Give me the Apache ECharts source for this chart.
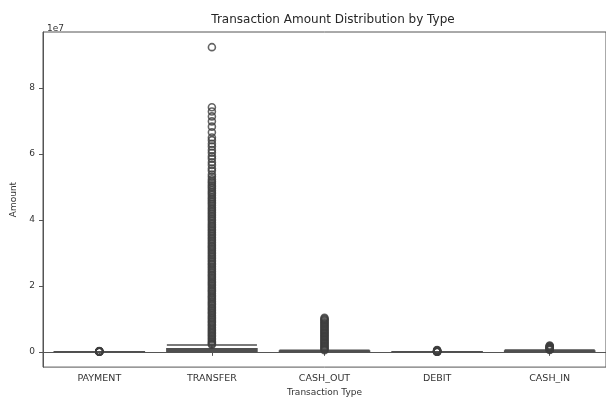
<!DOCTYPE html>
<html>
<head>
<meta charset="utf-8">
<script src="https://cdn.jsdelivr.net/npm/echarts@6/dist/echarts.min.js"></script>
<style>
  html, body { margin: 0; padding: 0; background: #fff; }
  #chart { width: 606px; height: 402px; }
</style>
</head>
<body>
<div id="chart"></div>
<script>
// Transaction types on the x axis
const types = ['PAYMENT', 'TRANSFER', 'CASH_OUT', 'DEBIT', 'CASH_IN'];

// Box statistics per type: [lower whisker, Q1, median, Q3, upper whisker]
const boxStats = [
  [2, 4384, 9482, 17561, 37325],
  [3, 215905, 486309, 974958, 2113000],
  [0, 72670, 147072, 246539, 506000],
  [1, 1500, 3049, 8577, 19000],
  [0, 70272, 143427, 260000, 545000]
];

// Outlier amounts per type (millions)
const outliersPayment = [0.04, 0.05, 0.07, 0.09, 0.11, 0.14, 0.17, 0.2, 0.24];
const outliersTransfer = [
  2.2, 2.5, 2.9, 3.3, 3.8, 4.2, 4.7, 5.1, 5.6, 6.0, 6.5, 6.9, 7.4, 7.9, 8.3,
  8.8, 9.2, 9.7, 10.2, 10.6, 11.1, 11.6, 12.0, 12.5, 13.0, 13.4, 13.9, 14.4,
  14.8, 15.3, 15.8, 16.3, 16.7, 17.2, 17.7, 18.2, 18.6, 19.1, 19.6, 20.1, 20.6,
  21.0, 21.5, 22.0, 22.5, 23.0, 23.4, 23.9, 24.4, 24.9, 25.4, 25.9, 26.4, 26.8,
  27.3, 27.8, 28.3, 28.8, 29.3, 29.8, 30.3, 30.8, 31.3, 31.8, 32.2, 32.7, 33.2,
  33.7, 34.2, 34.7, 35.2, 35.7, 36.2, 36.7, 37.2, 37.7, 38.2, 38.7, 39.2, 39.8,
  40.3, 40.8, 41.3, 41.8, 42.3, 42.8, 43.3, 43.8, 44.4, 44.9, 45.4, 45.9, 46.4,
  46.9, 47.5, 48.0, 48.5, 49.0, 49.6, 50.1, 50.6, 51.2, 51.7, 52.3,
  53.1, 53.8, 54.9, 55.6, 56.7, 57.5, 58.6, 59.3, 60.4, 61.2, 62.3, 63.1, 64.2, 65.0,
  66.6, 68.3, 69.9, 71.4, 72.9, 74.2,
  92.4
];
const outliersCashOut = [
  0.52, 0.8, 1.1, 1.4, 1.7, 2.0, 2.4, 2.7, 3.0, 3.4, 3.7, 4.0, 4.4, 4.7, 5.0,
  5.4, 5.7, 6.0, 6.4, 6.7, 7.0, 7.4, 7.7, 8.0, 8.4, 8.7, 9.0, 9.4, 9.7, 10.0, 10.3
];
const outliersDebit = [0.02, 0.03, 0.05, 0.08, 0.12, 0.17, 0.23, 0.3, 0.38, 0.47, 0.57];
const outliersCashIn = [0.56, 0.7, 0.85, 1.0, 1.15, 1.3, 1.45, 1.6, 1.75, 1.92];

// Y tick positions and labels (scaled by 1e7)
const yTicks = [0, 2e7, 4e7, 6e7, 8e7];
const yTickLabels = ['0', '2', '4', '6', '8'];

// Box fill colours
const boxColors = ['#5975a4', '#cc8963', '#5f9e6e', '#b55d60', '#857aab'];

const outlierLists = [outliersPayment, outliersTransfer, outliersCashOut, outliersDebit, outliersCashIn];
const outlierPoints = [];
outlierLists.forEach((list, i) => {
  list.forEach(v => outlierPoints.push([types[i], v * 1e6]));
});

const boxEdge = '#4f4f4f';
const flierEdge = '#3d3d3d';
const font = 'DejaVu Sans';

const chart = echarts.init(document.getElementById('chart'), null, { renderer: 'canvas' });
chart.setOption({
  animation: false,
  backgroundColor: '#fff',
  textStyle: { fontFamily: font },
  title: [
    {
      text: 'Transaction Amount Distribution by Type',
      left: 328, top: 9, textAlign: 'center',
      textStyle: { fontFamily: font, fontSize: 12, fontWeight: 'normal', color: '#262626' }
    },
    {
      text: '1e7',
      left: 42, top: 19,
      textStyle: { fontFamily: font, fontSize: 9, fontWeight: 'normal', color: '#333' }
    }
  ],
  grid: {
    left: 43, top: 32, width: 570, height: 346,
    show: true, borderColor: '#555', borderWidth: 1, backgroundColor: 'transparent'
  },
  xAxis: {
    type: 'category',
    data: types,
    boundaryGap: true,
    name: 'Transaction Type',
    nameLocation: 'middle',
    nameGap: 18,
    nameTextStyle: { fontFamily: font, fontSize: 9, color: '#333' },
    axisLine: { show: true, lineStyle: { color: '#555', width: 1 } },
    axisTick: { show: true, alignWithLabel: true, length: 4, lineStyle: { color: '#555' } },
    axisLabel: { fontFamily: font, fontSize: 9.5, color: '#333', margin: 6 },
    splitLine: { show: false }
  },
  yAxis: {
    type: 'value',
    min: -4.62e6,
    max: 97.0e6,
    name: 'Amount',
    nameLocation: 'middle',
    nameGap: 24,
    nameTextStyle: { fontFamily: font, fontSize: 9, color: '#333' },
    axisLine: { show: true, lineStyle: { color: '#555', width: 1 } },
    axisTick: { show: true, length: 4, customValues: yTicks, lineStyle: { color: '#555' } },
    axisLabel: {
      fontFamily: font, fontSize: 9, color: '#333', margin: 8,
      customValues: yTicks,
      formatter: v => yTickLabels[yTicks.indexOf(v)] ?? ''
    },
    splitLine: { show: false }
  },
  series: [
    {
      type: 'boxplot',
      boxWidth: ['80%', '80%'],
      data: boxStats.map((s, i) => ({
        value: s,
        itemStyle: { color: boxColors[i], borderColor: boxEdge, borderWidth: 1.5 }
      })),
      z: 3
    },
    {
      type: 'scatter',
      data: outlierPoints,
      symbol: 'circle',
      symbolSize: 7,
      itemStyle: { color: 'rgba(0,0,0,0)', borderColor: flierEdge, borderWidth: 1.6 },
      z: 4
    }
  ]
});
</script>
</body>
</html>
